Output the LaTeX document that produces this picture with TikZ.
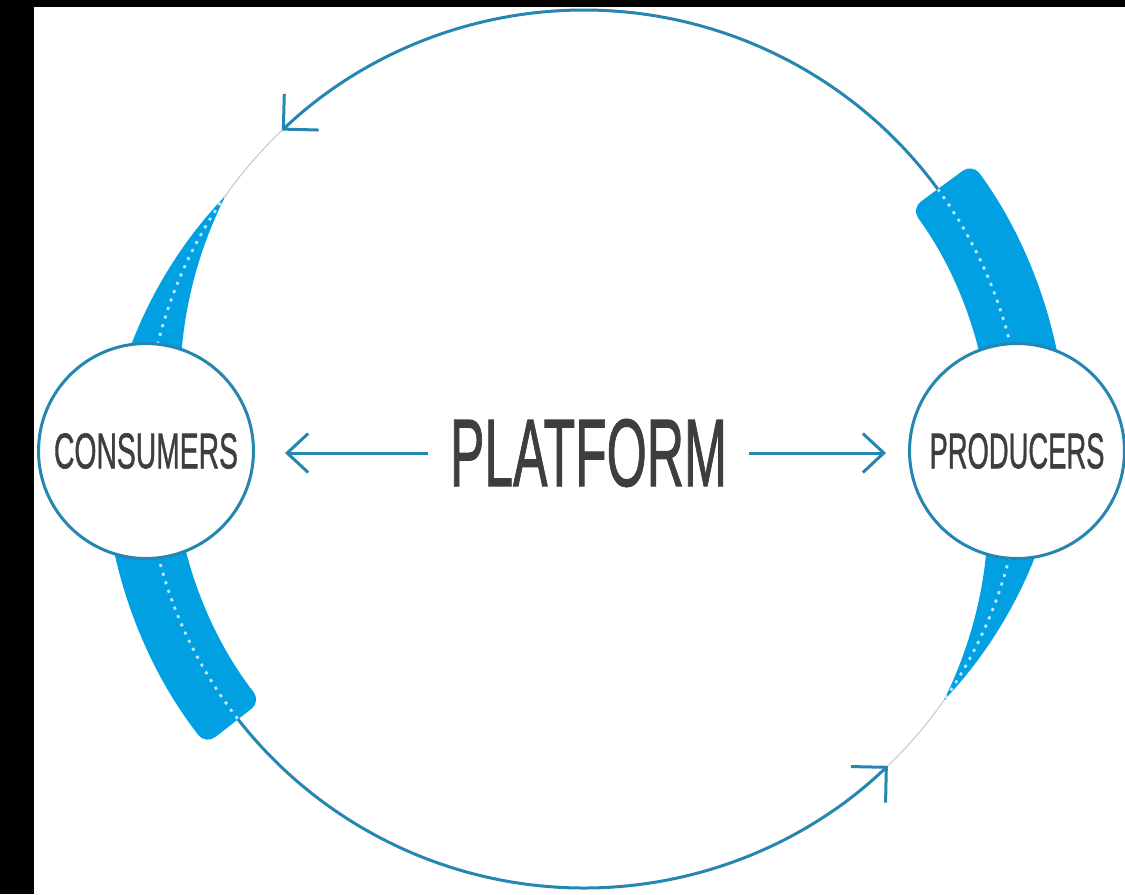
\documentclass[tikz,border=0pt]{standalone}
\usepackage{fontspec}
\setmainfont{Liberation Sans}
\newfontfamily\capsfont[FakeBold=1.3]{Liberation Sans}
\usepackage{graphicx}
\usetikzlibrary{arrows.meta}
\definecolor{flowline}{HTML}{2686B2}
\definecolor{flowfill}{HTML}{00A0E3}
\definecolor{labelgray}{HTML}{3E3E3E}
\tikzset{
  party/.style={
    circle,
    draw=flowline,
    fill=white,
    line width=0.06cm,
    minimum size=4.3cm,
    inner sep=0,
    text=labelgray,
    font=\capsfont,
  },
  hub/.style={
    inner sep=0.44cm,
    text=labelgray,
    font=\capsfont,
  },
  link/.style={
    draw=flowline,
    line width=0.06cm,
    -{Straight Barb[length=0.42cm,width=0.78cm]},
  },
  flow/.style={
    draw=flowline,
    line width=0.06cm,
  },
  flowtip/.style={
    flow,
    -{Straight Barb[length=0.5cm,width=1cm]},
  },
  band/.style={fill=flowfill},
  seam/.style={
    draw=white!75!flowfill,
    line width=0.055cm,
    dash pattern=on 0.06cm off 0.12cm,
  },
  ghost/.style={draw=black!22, line width=0.02cm},
}
\newcommand{\taper}[3]{%
  \fill[band] plot[domain=#1:#2,samples=40] ({584+(439+#3*abs(\x-(#1)))*cos(\x)},{445+(439+#3*abs(\x-(#1)))*sin(\x)}) % outer edge
    -- plot[domain=#2:#1,samples=40] ({584+(439-#3*abs(\x-(#1)))*cos(\x)},{445+(439-#3*abs(\x-(#1)))*sin(\x)}) % inner edge
    -- cycle;
}
\newcommand{\slab}[4]{%
  \fill[band,rounded corners=0.24cm] ([shift={(#1:#3)}]mid) arc[start angle=#1,end angle=#2,radius=#3] % outer edge
    -- ([shift={(#2:#4)}]mid) arc[start angle=#2,end angle=#1,radius=#4] % inner edge
    -- cycle;
}

\begin{document}
\begin{tikzpicture}[x=0.02cm,y=0.02cm]
  \useasboundingbox (0,0) rectangle (1125,894);
  \fill[black] (0,0) rectangle (1125,894);
  \fill[white] (34,0) rectangle (1125,887);

  \coordinate (mid) at (584,445);

  % thick parts of the loop
  \slab{36.3}{0}{482}{406}
  \taper{-35}{0}{1.15}
  \taper{144.7}{180}{1.15}
  \slab{218}{180}{480}{410}

  \draw[seam] ([shift={(36.3:439)}]mid) arc[start angle=36.3,end angle=-35,radius=439];
  \draw[seam] ([shift={(144.7:439)}]mid) arc[start angle=144.7,end angle=218,radius=439];

  \draw[ghost] ([shift={(133.5:439)}]mid) arc[start angle=133.5,end angle=144.7,radius=439];
  \draw[ghost] ([shift={(313.8:439)}]mid) arc[start angle=313.8,end angle=325,radius=439];

  % thin parts of the loop
  \draw[flowtip] ([shift={(36.3:439)}]mid) arc[start angle=36.3,end angle=133.5,radius=439];
  \draw[flowtip] ([shift={(218:439)}]mid) arc[start angle=218,end angle=313.8,radius=439];

  \node[party] (consumers) at (146,443) {\resizebox{3.68cm}{0.7cm}{CONSUMERS}};
  \node[party] (producers) at (1017,443) {\resizebox{3.5cm}{0.7cm}{PRODUCERS}};
  \node[hub] (platform) at (588.5,441) {\resizebox{5.54cm}{1.34cm}{PLATFORM}};

  \draw[link,shorten >=0.6cm] (platform.west) -- (platform.west -| consumers.east);
  \draw[link,shorten >=0.44cm] (platform.east) -- (platform.east -| producers.west);
\end{tikzpicture}
\end{document}
